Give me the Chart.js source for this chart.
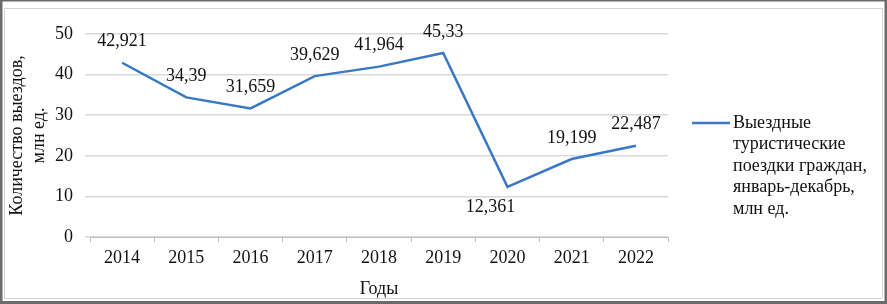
<!DOCTYPE html>
<html>
<head>
<meta charset="utf-8">
<script src="https://cdn.jsdelivr.net/npm/chart.js@4/dist/chart.umd.min.js"></script>
<style>
  html, body { margin: 0; padding: 0; background: #fff; }
  #wrap { width: 887px; height: 304px; position: relative; }
</style>
</head>
<body>
<div id="wrap"><canvas id="c" width="887" height="304"></canvas></div>
<script>
const years = ['2014', '2015', '2016', '2017', '2018', '2019', '2020', '2021', '2022'];
const trips = [42.921, 34.39, 31.659, 39.629, 41.964, 45.33, 12.361, 19.199, 22.487];
const tripLabels = ['42,921', '34,39', '31,659', '39,629', '41,964', '45,33', '12,361', '19,199', '22,487'];
const labelBelow = [false, false, false, false, false, false, true, false, false];
const yTicks = [0, 10, 20, 30, 40, 50];
const seriesName = ['Выездные', 'туристические', 'поездки граждан,', 'январь-декабрь,', 'млн ед.'];
const yTitle = ['Количество выездов,', 'млн ед.'];
const xTitle = 'Годы';

const FONT = "'Liberation Serif', 'Times New Roman', serif";
const LINE_COLOR = '#3a78c4';

const framePlugin = {
  id: 'frame',
  beforeDraw(chart) {
    const ctx = chart.ctx, w = chart.width, h = chart.height;
    ctx.save();
    ctx.fillStyle = '#fff';
    ctx.fillRect(0, 0, w, h);
    ctx.strokeStyle = '#d4d4d4';
    ctx.lineWidth = 1;
    ctx.beginPath();
    ctx.moveTo(4, 8.5); ctx.lineTo(882, 8.5);
    ctx.moveTo(882.5, 8); ctx.lineTo(882.5, 298);
    ctx.moveTo(4, 298.5); ctx.lineTo(882, 298.5);
    ctx.moveTo(4.5, 8); ctx.lineTo(4.5, 298);
    ctx.stroke();
    ctx.fillStyle = '#6b6b6b';
    ctx.fillRect(0, 0, w, 1.5);
    ctx.fillRect(0, 0, 2.5, h);
    ctx.fillRect(w - 2.5, 0, 2.5, h);
    ctx.fillRect(0, h - 3, w, 3);
    ctx.restore();
  }
};

const valueLabelPlugin = {
  id: 'valueLabels',
  afterDatasetsDraw(chart) {
    const ctx = chart.ctx;
    const meta = chart.getDatasetMeta(0);
    ctx.save();
    ctx.font = '18px ' + FONT;
    ctx.fillStyle = '#111';
    ctx.textAlign = 'center';
    ctx.textBaseline = 'middle';
    meta.data.forEach((pt, i) => {
      const below = labelBelow[i];
      const dx = below ? -17 : 0;
      const dy = below ? 20 : -21;
      ctx.fillText(tripLabels[i], pt.x + dx, pt.y + dy);
    });
    ctx.restore();
  }
};

const legendPlugin = {
  id: 'sideLegend',
  afterDraw(chart) {
    const ctx = chart.ctx;
    const area = chart.chartArea;
    const x0 = area.right + 24;
    const y0 = 123;
    ctx.save();
    ctx.strokeStyle = LINE_COLOR;
    ctx.lineWidth = 2.5;
    ctx.beginPath();
    ctx.moveTo(x0, y0);
    ctx.lineTo(x0 + 38, y0);
    ctx.stroke();
    ctx.font = '18px ' + FONT;
    ctx.fillStyle = '#111';
    ctx.textAlign = 'left';
    ctx.textBaseline = 'middle';
    seriesName.forEach((t, i) => ctx.fillText(t, x0 + 41, y0 + i * 21.5));
    ctx.restore();
  }
};

new Chart(document.getElementById('c'), {
  type: 'line',
  data: {
    labels: years,
    datasets: [{
      label: seriesName.join(' '),
      data: trips,
      borderColor: LINE_COLOR,
      backgroundColor: LINE_COLOR,
      borderWidth: 2.5,
      pointRadius: 0,
      tension: 0,
      fill: false
    }]
  },
  options: {
    responsive: false,
    animation: false,
    devicePixelRatio: 1,
    layout: { padding: { left: 0, top: 34, right: 219, bottom: 0 } },
    plugins: {
      legend: { display: false },
      tooltip: { enabled: false }
    },
    scales: {
      x: {
        offset: true,
        afterFit(s) { s.height = 67; },
        grid: {
          display: true,
          drawOnChartArea: false,
          drawTicks: true,
          tickLength: 5,
          offset: true,
          color: '#bfbfbf'
        },
        border: { display: true, color: '#bfbfbf', width: 1 },
        ticks: {
          color: '#111',
          font: { family: FONT, size: 18 },
          padding: 5,
          maxRotation: 0
        },
        title: {
          display: true,
          text: xTitle,
          color: '#111',
          font: { family: FONT, size: 18, lineHeight: 1.25 },
          padding: { top: 0, bottom: 3 }
        }
      },
      y: {
        min: 0,
        max: 50,
        afterFit(s) { s.width = 90; },
        afterBuildTicks(s) { s.ticks = yTicks.map(v => ({ value: v })); },
        grid: {
          color: '#d9d9d9',
          drawTicks: true,
          tickLength: 5,
          lineWidth: 1.5
        },
        border: { display: false },
        ticks: {
          color: '#111',
          font: { family: FONT, size: 18 },
          padding: 12
        },
        title: {
          display: true,
          text: yTitle,
          color: '#111',
          font: { family: FONT, size: 18, lineHeight: 1.25 },
          padding: { top: 6, bottom: 0 }
        }
      }
    }
  },
  plugins: [framePlugin, valueLabelPlugin, legendPlugin]
});
</script>
</body>
</html>
